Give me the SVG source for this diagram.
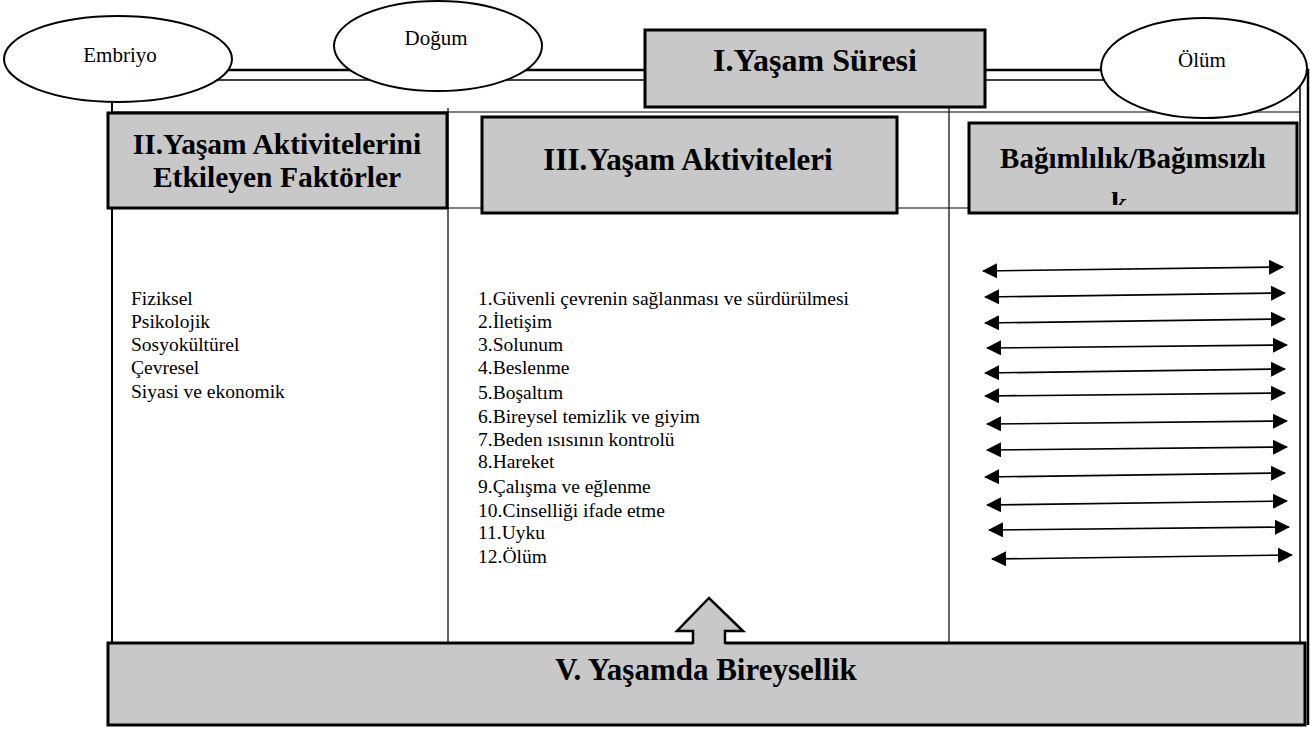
<svg xmlns="http://www.w3.org/2000/svg" width="1310" height="729" viewBox="0 0 1310 729">
<style>
.box{fill:#c8c8c8;stroke:#000;stroke-width:3}
.ell{fill:#fff;stroke:#000;stroke-width:2}
.hd{font-family:"Liberation Serif","Times New Roman",serif;font-weight:bold;fill:#000;text-anchor:middle}
.lbl{font-family:"Liberation Serif","Times New Roman",serif;font-size:19.5px;fill:#000}
.oval{font-family:"Liberation Serif","Times New Roman",serif;font-size:21px;fill:#000;text-anchor:middle}
.ln{stroke:#000;fill:none}
.arr{stroke:#000;stroke-width:1.6;fill:none;marker-start:url(#ah);marker-end:url(#ah)}
</style>
<defs>
<marker id="ah" viewBox="0 0 15 15" refX="14" refY="7.5" markerWidth="15" markerHeight="15" markerUnits="userSpaceOnUse" orient="auto-start-reverse"><path d="M0,0 L15,7.5 L0,15 Z" fill="#000"/></marker>
<clipPath id="bclip"><rect x="970" y="124" width="326" height="81"/></clipPath>
</defs>
<rect width="1310" height="729" fill="#fff"/>

<g id="frame">
<path class="ln" d="M185,70 H1308 V725" stroke-width="2.5"/>
<path class="ln" d="M185,80 H1300 V643" stroke-width="1.5"/>
<path class="ln" d="M112,112 H1300" stroke-width="1.2"/>
<path class="ln" d="M112,100 V643" stroke-width="2"/>
<path class="ln" d="M448,108 V643" stroke-width="1.2"/>
<path class="ln" d="M949,108 V643" stroke-width="1.2"/>
<path class="ln" d="M447,208 H482 M897,208 H969" stroke-width="1.2"/>
</g>

<g id="embriyo">
<ellipse class="ell" cx="118" cy="59" rx="114" ry="43"/>
<text class="oval" x="120" y="62">Embriyo</text>
</g>
<g id="dogum">
<ellipse class="ell" cx="438" cy="46" rx="104" ry="45"/>
<text class="oval" x="436" y="45">Doğum</text>
</g>
<g id="olum">
<ellipse class="ell" cx="1204" cy="68" rx="103" ry="50"/>
<text class="oval" x="1202" y="67">Ölüm</text>
</g>

<g id="yasam-suresi">
<rect class="box" x="645" y="30" width="340" height="77"/>
<text class="hd" x="815" y="71" font-size="32">I.Yaşam Süresi</text>
</g>

<g id="faktorler">
<rect class="box" x="108" y="113" width="339" height="95"/>
<text class="hd" x="277" y="154" font-size="29.5">II.Yaşam Aktivitelerini</text>
<text class="hd" x="277" y="187" font-size="29.5">Etkileyen Faktörler</text>
</g>

<g id="aktiviteler">
<rect class="box" x="482" y="117" width="415" height="96"/>
<text class="hd" x="688" y="170" font-size="31">III.Yaşam Aktiviteleri</text>
</g>

<g id="bagimlilik">
<rect class="box" x="969" y="123" width="328" height="90"/>
<text class="hd" x="1133" y="168" font-size="29">Bağımlılık/Bağımsızlı</text>
<text class="hd" x="1119" y="213" font-size="29" clip-path="url(#bclip)">k</text>
</g>

<g id="faktor-listesi">
<text class="lbl" x="131" y="305">Fiziksel</text>
<text class="lbl" x="131" y="328">Psikolojik</text>
<text class="lbl" x="131" y="351">Sosyokültürel</text>
<text class="lbl" x="131" y="374">Çevresel</text>
<text class="lbl" x="131" y="398">Siyasi ve ekonomik</text>
</g>

<g id="aktivite-listesi">
<text class="lbl" x="478" y="305">1.Güvenli çevrenin sağlanması ve sürdürülmesi</text>
<text class="lbl" x="478" y="328">2.İletişim</text>
<text class="lbl" x="478" y="351">3.Solunum</text>
<text class="lbl" x="478" y="374">4.Beslenme</text>
<text class="lbl" x="478" y="399">5.Boşaltım</text>
<text class="lbl" x="478" y="423">6.Bireysel temizlik ve giyim</text>
<text class="lbl" x="478" y="446">7.Beden ısısının kontrolü</text>
<text class="lbl" x="478" y="468">8.Hareket</text>
<text class="lbl" x="478" y="493">9.Çalışma ve eğlenme</text>
<text class="lbl" x="478" y="517">10.Cinselliği ifade etme</text>
<text class="lbl" x="478" y="539">11.Uyku</text>
<text class="lbl" x="478" y="563">12.Ölüm</text>
</g>

<g id="connectors">
<line class="arr" x1="983" y1="271" x2="1283" y2="267"/>
<line class="arr" x1="985" y1="297" x2="1285" y2="293"/>
<line class="arr" x1="985" y1="323" x2="1285" y2="319"/>
<line class="arr" x1="987" y1="348" x2="1287" y2="345"/>
<line class="arr" x1="985" y1="373" x2="1285" y2="369"/>
<line class="arr" x1="985" y1="396" x2="1285" y2="393"/>
<line class="arr" x1="987" y1="424" x2="1287" y2="421"/>
<line class="arr" x1="987" y1="450" x2="1287" y2="447"/>
<line class="arr" x1="985" y1="477" x2="1285" y2="473"/>
<line class="arr" x1="987" y1="505" x2="1287" y2="501"/>
<line class="arr" x1="989" y1="530" x2="1289" y2="527"/>
<line class="arr" x1="992" y1="559" x2="1292" y2="555"/>
</g>

<g id="bireysellik">
<rect class="box" x="108" y="643" width="1197" height="82"/>
<text class="hd" x="706" y="680" font-size="31">V. Yaşamda Bireysellik</text>
<polygon points="709,598 743,631 725,631 725,645 693,645 693,631 677,631" fill="#c8c8c8"/>
<path class="ln" d="M725,644 V631 H743 L709,598 L677,631 H693 V644" stroke-width="2.5" stroke-linejoin="miter"/>
</g>
</svg>
